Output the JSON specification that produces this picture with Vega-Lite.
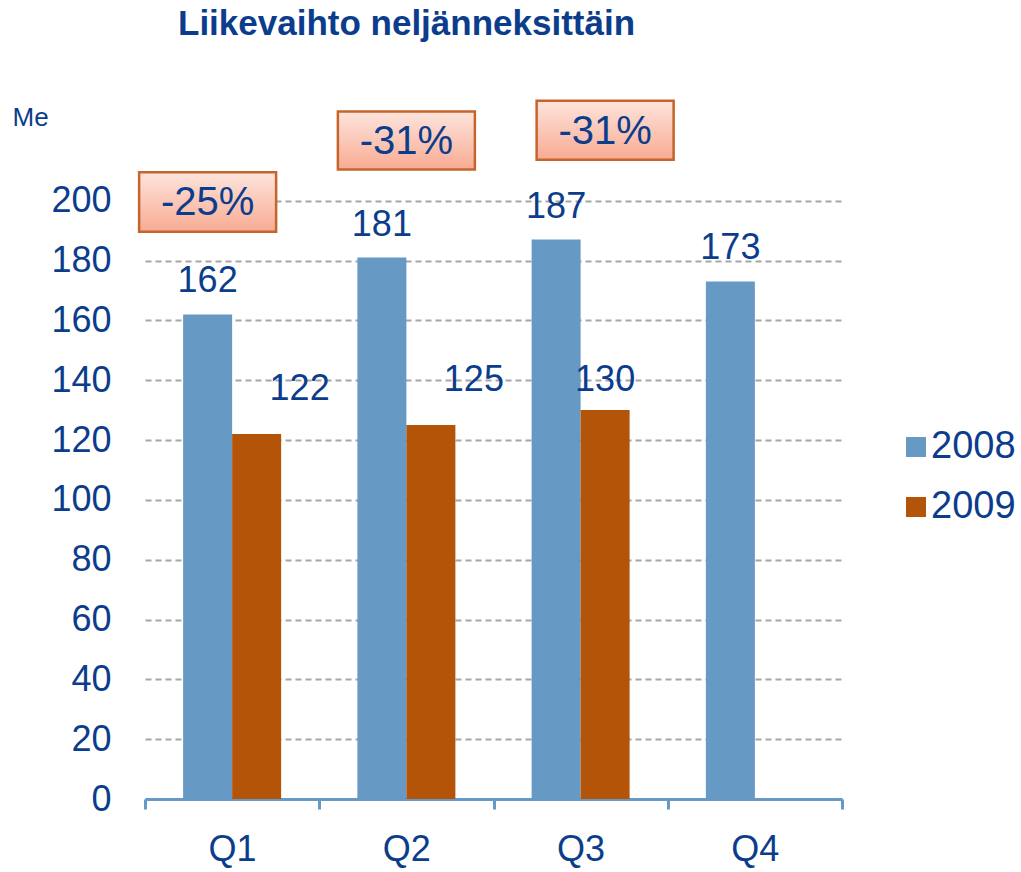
{
  "$schema": "https://vega.github.io/schema/vega-lite/v6.json",
  "width": 697,
  "height": 703,
  "autosize": "none",
  "padding": {"left": 145, "top": 96, "right": 179, "bottom": 73},
  "background": "white",
  "config": {"font": "Liberation Sans", "view": {"stroke": null}},
  "title": {
    "text": "Liikevaihto neljänneksittäin",
    "fontSize": 35,
    "fontWeight": "bold",
    "color": "#0b3d8c",
    "anchor": "start",
    "dx": 166,
    "offset": 54
  },
  "datasets": {
    "sales": [
      {"q": "Q1", "year": "2008", "value": 162},
      {"q": "Q1", "year": "2009", "value": 122},
      {"q": "Q2", "year": "2008", "value": 181},
      {"q": "Q2", "year": "2009", "value": 125},
      {"q": "Q3", "year": "2008", "value": 187},
      {"q": "Q3", "year": "2009", "value": 130},
      {"q": "Q4", "year": "2008", "value": 173}
    ],
    "notes": [
      {"q": "Q1", "label": "-25%", "top": 209.5, "bottom": 189.6, "mid": 199.3},
      {"q": "Q2", "label": "-31%", "top": 229.8, "bottom": 210.4, "mid": 219.6},
      {"q": "Q3", "label": "-31%", "top": 233.4, "bottom": 213.7, "mid": 222.9}
    ]
  },
  "layer": [
    {
      "data": {"name": "sales"},
      "mark": {"type": "bar"},
      "encoding": {
        "x": {
          "field": "q", "type": "nominal",
          "scale": {"paddingInner": 0, "paddingOuter": 0},
          "axis": {
            "title": null, "tickBand": "extent", "labelAngle": 0,
            "domainColor": "#6699c4", "domainWidth": 3,
            "tickColor": "#6699c4", "tickWidth": 3, "tickSize": 10,
            "labelFontSize": 36, "labelColor": "#0b3d8c", "labelPadding": 23
          }
        },
        "xOffset": {"field": "year", "type": "nominal", "scale": {"paddingInner": 0, "paddingOuter": 0.778}},
        "y": {
          "field": "value", "type": "quantitative", "title": "Me",
          "scale": {"domain": [0, 235], "nice": false},
          "axis": {
            "values": [0, 20, 40, 60, 80, 100, 120, 140, 160, 180, 200],
            "grid": true, "gridDash": [6, 4], "gridColor": "#a6a6a6", "gridWidth": 2,
            "domain": false, "ticks": false,
            "labelFontSize": 36, "labelColor": "#0b3d8c", "labelPadding": 34,
            "titleAngle": 0, "titleX": -133, "titleY": 21, "titleAlign": "left",
            "titleBaseline": "middle", "titleFontSize": 26, "titleFontWeight": "normal",
            "titleColor": "#0b3d8c"
          }
        },
        "color": {
          "field": "year", "type": "nominal",
          "scale": {"domain": ["2008", "2009"], "range": ["#6699c4", "#b45408"]},
          "legend": {
            "orient": "none", "legendX": 752, "legendY": 332, "title": null,
            "symbolType": "square", "symbolSize": 400, "symbolStrokeWidth": 0,
            "labelFontSize": 38, "labelColor": "#0b3d8c", "rowPadding": 22, "labelOffset": -4
          }
        }
      }
    },
    {
      "data": {"name": "sales"},
      "transform": [{"filter": "datum.year === '2008'"}],
      "mark": {"type": "text", "fontSize": 36, "color": "#0b3d8c", "baseline": "middle", "dy": -33},
      "encoding": {
        "x": {"field": "q", "type": "nominal"},
        "xOffset": {"field": "year", "type": "nominal"},
        "y": {"field": "value", "type": "quantitative", "title": "Me"},
        "text": {"field": "value", "type": "quantitative"}
      }
    },
    {
      "data": {"name": "sales"},
      "transform": [{"filter": "datum.year === '2009' && datum.q !== 'Q3'"}],
      "mark": {"type": "text", "fontSize": 36, "color": "#0b3d8c", "baseline": "middle", "dx": 43, "dy": -45},
      "encoding": {
        "x": {"field": "q", "type": "nominal"},
        "xOffset": {"field": "year", "type": "nominal"},
        "y": {"field": "value", "type": "quantitative", "title": "Me"},
        "text": {"field": "value", "type": "quantitative"}
      }
    },
    {
      "data": {"name": "sales"},
      "transform": [{"filter": "datum.year === '2009' && datum.q === 'Q3'"}],
      "mark": {"type": "text", "fontSize": 36, "color": "#0b3d8c", "baseline": "middle", "dy": -30},
      "encoding": {
        "x": {"field": "q", "type": "nominal"},
        "xOffset": {"field": "year", "type": "nominal"},
        "y": {"field": "value", "type": "quantitative", "title": "Me"},
        "text": {"field": "value", "type": "quantitative"}
      }
    },
    {
      "data": {"name": "notes"},
      "transform": [{"filter": "datum.q === 'Q1'"}],
      "mark": {
        "type": "bar", "width": 137, "stroke": "#c5652c", "strokeWidth": 2.5,
        "fill": {"gradient": "linear", "x1": 0, "y1": 0, "x2": 0, "y2": 1,
          "stops": [{"offset": 0, "color": "#fde4dc"}, {"offset": 1, "color": "#f8ab93"}]}
      },
      "encoding": {
        "x": {"field": "q", "type": "nominal"},
        "xOffset": {"datum": "2008"},
        "y": {"field": "top", "type": "quantitative", "title": "Me"},
        "y2": {"field": "bottom"}
      }
    },
    {
      "data": {"name": "notes"},
      "transform": [{"filter": "datum.q === 'Q1'"}],
      "mark": {"type": "text", "fontSize": 40, "color": "#0b3d8c", "baseline": "middle"},
      "encoding": {
        "x": {"field": "q", "type": "nominal"},
        "xOffset": {"datum": "2008"},
        "y": {"field": "mid", "type": "quantitative", "title": "Me"},
        "text": {"field": "label"}
      }
    },
    {
      "data": {"name": "notes"},
      "transform": [{"filter": "datum.q === 'Q2'"}],
      "mark": {
        "type": "bar", "width": 137, "stroke": "#c5652c", "strokeWidth": 2.5,
        "fill": {"gradient": "linear", "x1": 0, "y1": 0, "x2": 0, "y2": 1,
          "stops": [{"offset": 0, "color": "#fde4dc"}, {"offset": 1, "color": "#f8ab93"}]}
      },
      "encoding": {
        "x": {"field": "q", "type": "nominal"},
        "y": {"field": "top", "type": "quantitative", "title": "Me"},
        "y2": {"field": "bottom"}
      }
    },
    {
      "data": {"name": "notes"},
      "transform": [{"filter": "datum.q === 'Q2'"}],
      "mark": {"type": "text", "fontSize": 40, "color": "#0b3d8c", "baseline": "middle"},
      "encoding": {
        "x": {"field": "q", "type": "nominal"},
        "y": {"field": "mid", "type": "quantitative", "title": "Me"},
        "text": {"field": "label"}
      }
    },
    {
      "data": {"name": "notes"},
      "transform": [{"filter": "datum.q === 'Q3'"}],
      "mark": {
        "type": "bar", "width": 137, "stroke": "#c5652c", "strokeWidth": 2.5,
        "fill": {"gradient": "linear", "x1": 0, "y1": 0, "x2": 0, "y2": 1,
          "stops": [{"offset": 0, "color": "#fde4dc"}, {"offset": 1, "color": "#f8ab93"}]}
      },
      "encoding": {
        "x": {"field": "q", "type": "nominal"},
        "xOffset": {"datum": "2009"},
        "y": {"field": "top", "type": "quantitative", "title": "Me"},
        "y2": {"field": "bottom"}
      }
    },
    {
      "data": {"name": "notes"},
      "transform": [{"filter": "datum.q === 'Q3'"}],
      "mark": {"type": "text", "fontSize": 40, "color": "#0b3d8c", "baseline": "middle"},
      "encoding": {
        "x": {"field": "q", "type": "nominal"},
        "xOffset": {"datum": "2009"},
        "y": {"field": "mid", "type": "quantitative", "title": "Me"},
        "text": {"field": "label"}
      }
    }
  ]
}
